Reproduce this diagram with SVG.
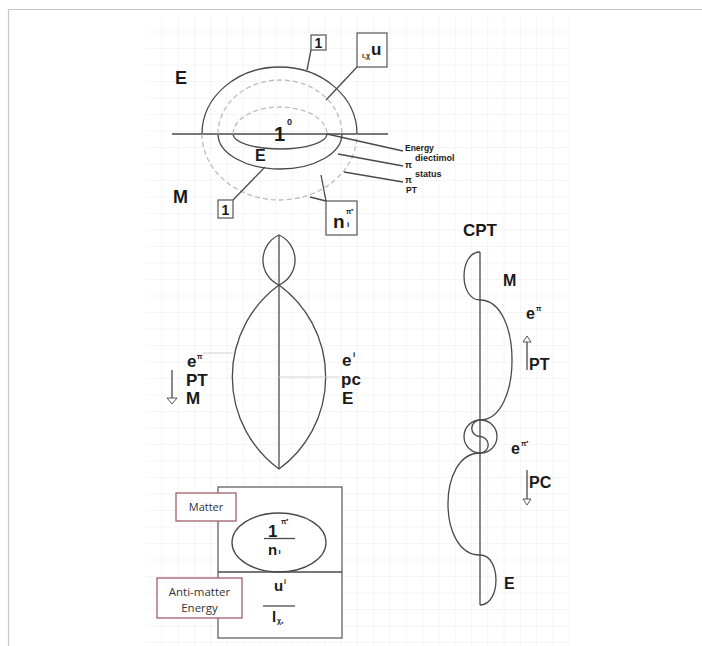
<svg xmlns="http://www.w3.org/2000/svg" width="702" height="646" viewBox="0 0 702 646">
  <defs>
    <pattern id="grid" x="146" y="16" width="16.3" height="16.5" patternUnits="userSpaceOnUse">
      <path d="M16.3,0 V16.5 M0,16.5 H16.3" fill="none" stroke="#ececec" stroke-width="1"/>
    </pattern>
    <style>
      .ln { fill: none; stroke: #4a4a4a; stroke-width: 1.3; }
      .dash { fill: none; stroke: #bdbdbd; stroke-width: 1.3; stroke-dasharray: 5 3; }
      .faint { fill: none; stroke: #d2d2d2; stroke-width: 1; }
      .box { fill: #ffffff; stroke: #555555; stroke-width: 1.2; }
      .tag { fill: #ffffff; stroke: #a0606a; stroke-width: 1.3; }
      .head { fill: #ffffff; stroke: #555555; stroke-width: 1; }
      .b { font-family: "Liberation Sans", Arial, sans-serif; font-weight: bold; fill: #1a1a1a; }
      .r { font-family: "Open Sans", "Liberation Sans", sans-serif; fill: #333333; }
    </style>
  </defs>

  <!-- page frame and squared paper -->
  <rect x="0" y="0" width="702" height="646" fill="#ffffff"/>
  <path d="M8.5,646 V9.5 H702" fill="none" stroke="#c8c8c8" stroke-width="1.2"/>
  <rect x="146" y="16" width="424" height="630" fill="url(#grid)"/>

  <!-- top: nested rings cut by the horizontal axis -->
  <g id="rings">
    <line class="ln" x1="172" y1="134" x2="388" y2="134"/>
    <path class="ln" d="M202,134 A77.5,67 0 0 1 357,134"/>
    <path class="dash" d="M202,134 A77.5,66 0 0 0 357,134"/>
    <path class="dash" d="M218,134 A62,54 0 0 1 342,134"/>
    <path class="ln" d="M218,134 A62,35 0 0 0 342,134"/>
    <path class="dash" d="M233,134 A47,27 0 0 1 327,134"/>
    <path class="ln" d="M233,134 A47,15 0 0 0 327,134"/>
    <text class="b" x="274" y="141" font-size="20">1</text>
    <text class="b" x="287" y="125" font-size="9">0</text>
    <text class="b" x="255" y="161" font-size="16">E</text>
  </g>

  <g id="label-E-top"><text class="b" x="175" y="84" font-size="18">E</text></g>
  <g id="label-M-top"><text class="b" x="173" y="203" font-size="18">M</text></g>

  <g id="box-one-top">
    <rect class="box" x="311" y="35" width="15" height="15"/>
    <text class="b" x="314.5" y="48" font-size="14">1</text>
  </g>
  <g id="box-u">
    <rect class="box" x="357" y="33" width="30" height="34"/>
    <text class="b" x="362" y="58" font-size="7">ι,χ</text>
    <text class="b" x="371" y="55" font-size="17">u</text>
  </g>
  <g id="box-one-bottom">
    <rect class="box" x="218" y="200" width="15" height="18"/>
    <text class="b" x="221.5" y="215" font-size="14">1</text>
  </g>
  <g id="box-n">
    <rect class="box" x="326" y="201" width="31" height="34"/>
    <text class="b" x="333" y="228" font-size="19">n</text>
    <text class="b" x="346" y="214" font-size="7">π⁺</text>
    <text class="b" x="347" y="227" font-size="8">i</text>
  </g>

  <g id="ring-notes">
    <text class="b" x="405" y="151" font-size="8.5">Energy</text>
    <text class="b" x="405" y="168" font-size="9">π</text>
    <text class="b" x="415" y="161" font-size="9">diectimol</text>
    <text class="b" x="405" y="183" font-size="9">π</text>
    <text class="b" x="415" y="177" font-size="9">status</text>
    <text class="b" x="406" y="193" font-size="8.5">PT</text>
  </g>

  <!-- middle: stacked lens shapes on a vertical axis -->
  <g id="lens">
    <path class="ln" d="M279,235 A27.5,27.5 0 0 0 279,285 A27.5,27.5 0 0 0 279,235 Z"/>
    <path class="ln" d="M279,285 A114,114 0 0 0 279,469 A114,114 0 0 0 279,285 Z"/>
    <line class="ln" x1="279" y1="235" x2="279" y2="469"/>
    <line class="faint" x1="203" y1="353" x2="233" y2="353"/>
    <line class="faint" x1="279" y1="377" x2="340" y2="377"/>
  </g>

  <g id="label-left-stack">
    <text class="b" x="187" y="367" font-size="17">e</text>
    <text class="b" x="197" y="359" font-size="7">π</text>
    <text class="b" x="186" y="386" font-size="17">PT</text>
    <text class="b" x="186" y="404" font-size="17">M</text>
  </g>
  <g id="label-right-stack">
    <text class="b" x="342" y="366" font-size="17">e</text>
    <text class="b" x="353" y="357" font-size="8">i</text>
    <text class="b" x="341" y="385" font-size="17">pc</text>
    <text class="b" x="342" y="404" font-size="17">E</text>
  </g>

  <!-- right: wave winding around a vertical axis -->
  <g id="wave">
    <line class="ln" x1="480" y1="252" x2="480" y2="605"/>
    <path class="ln" d="M480,252 C458.7,252 458.7,300 480,300 C522.7,300 522.7,420 480,420"/>
    <circle class="ln" cx="480.5" cy="436.5" r="16.5"/>
    <path class="ln" d="M480,420 A8.25,8.25 0 0 0 480,436.5 A8.25,8.25 0 0 1 480,453"/>
    <path class="ln" d="M480,453 C437.3,453 437.3,555 480,555 C501.3,555 501.3,605 480,605"/>
  </g>

  <g id="label-CPT"><text class="b" x="463" y="236" font-size="17">CPT</text></g>
  <g id="label-M-right"><text class="b" x="503" y="286" font-size="16">M</text></g>
  <g id="label-e-pi">
    <text class="b" x="526" y="319" font-size="16">e</text>
    <text class="b" x="536" y="311" font-size="7">π</text>
  </g>
  <g id="label-PT-right"><text class="b" x="529" y="370" font-size="16">PT</text></g>
  <g id="label-e-pi-plus">
    <text class="b" x="511" y="454" font-size="16">e</text>
    <text class="b" x="521" y="446" font-size="7">π⁺</text>
  </g>
  <g id="label-PC"><text class="b" x="529" y="488" font-size="16">PC</text></g>
  <g id="label-E-right"><text class="b" x="504" y="589" font-size="16">E</text></g>

  <!-- bottom: matter / anti-matter panel -->
  <g id="panel">
    <rect class="box" x="218" y="487" width="124" height="151" fill="none"/>
    <line class="ln" x1="218" y1="572" x2="342" y2="572"/>
    <ellipse class="ln" cx="279" cy="542.5" rx="47" ry="29.5"/>
    <text class="b" x="268" y="537" font-size="17">1</text>
    <text class="b" x="281" y="524" font-size="7">π⁺</text>
    <line class="ln" x1="264" y1="538.5" x2="295" y2="538.5"/>
    <text class="b" x="268" y="555" font-size="15">n</text>
    <text class="b" x="278.5" y="554" font-size="8">ı</text>
    <text class="b" x="274" y="591" font-size="15">u</text>
    <text class="b" x="284" y="584" font-size="7">i</text>
    <line class="ln" x1="263" y1="606" x2="295" y2="606"/>
    <text class="b" x="272" y="622" font-size="15">l</text>
    <text class="b" x="277" y="623" font-size="7">χ₊</text>
  </g>

  <g id="tag-matter">
    <rect class="tag" x="176" y="493" width="60" height="28"/>
    <text class="r" x="206" y="511" font-size="11" text-anchor="middle">Matter</text>
  </g>
  <g id="tag-antimatter">
    <rect class="tag" x="157" y="578" width="85" height="40"/>
    <text class="r" x="199.5" y="596" font-size="11.5" text-anchor="middle">Anti-matter</text>
    <text class="r" x="199.5" y="612" font-size="11.5" text-anchor="middle">Energy</text>
  </g>

  <!-- leader lines and direction arrows -->
  <g id="connectors">
    <line class="ln" x1="311" y1="50" x2="307" y2="70"/>
    <line class="ln" x1="357" y1="67" x2="326" y2="100"/>
    <line class="ln" x1="233" y1="200" x2="265" y2="167"/>
    <line class="ln" x1="326" y1="201" x2="321" y2="175"/>
    <line class="ln" x1="326" y1="201" x2="310" y2="197"/>
    <line class="ln" x1="327" y1="134" x2="403" y2="151"/>
    <line class="ln" x1="338" y1="154" x2="403" y2="166"/>
    <line class="ln" x1="344" y1="172" x2="403" y2="182"/>
    <line class="ln" x1="172" y1="370" x2="172" y2="398"/>
    <polygon class="head" points="167,398 177,398 172,404"/>
    <line class="ln" x1="527" y1="370" x2="527" y2="342"/>
    <polygon class="head" points="523,342 531,342 527,336"/>
    <line class="ln" x1="527" y1="470" x2="527" y2="499"/>
    <polygon class="head" points="523,499 531,499 527,505"/>
  </g>
</svg>
